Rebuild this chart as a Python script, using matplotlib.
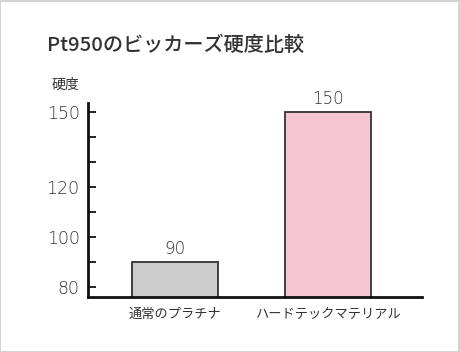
import matplotlib
matplotlib.use("Agg")
import matplotlib.pyplot as plt
from matplotlib.patches import Rectangle

plt.rcParams['font.family'] = ['Noto Sans CJK JP', 'DejaVu Sans']

# データ
categories = ['通常のプラチナ', 'ハードテックマテリアル']
hardness = [90, 150]
bar_colors = ['#cccccc', '#f5c6cf']
major_ticks = [80, 100, 120, 150]
minor_ticks = [90, 110, 130, 140]

num_font = dict(family='DejaVu Sans', weight=200)

fig = plt.figure(figsize=(4.6, 3.52), dpi=100)
ax = fig.add_axes([0.1913, 0.1571, 0.7261, 0.5494])

x = range(len(categories))
bars = ax.bar(x, hardness, width=0.563, bottom=0, color=bar_colors,
              edgecolor='#333333', linewidth=1.3)
ax.set_ylim(76, 153.4)
ax.set_xlim(-0.572, 1.616)

for b, v in zip(bars, hardness):
    ax.annotate(str(v), (b.get_x() + b.get_width() / 2, v), xytext=(0, 2.5),
                textcoords='offset points', ha='center', va='bottom',
                fontsize=12, color='#333333', **num_font)

ax.set_yticks(major_ticks)
ax.set_yticks(minor_ticks, minor=True)
ax.set_yticklabels([str(t) for t in major_ticks], fontsize=12.5,
                   color='#333333', **num_font)
ax.tick_params(axis='y', which='both', direction='in', length=6, width=1.3,
               color='#111111', pad=6)
ax.set_xticks(list(x))
ax.set_xticklabels(categories, fontsize=9.5, color='#333333')
ax.tick_params(axis='x', length=0, pad=8)

for s in ['top', 'right']:
    ax.spines[s].set_visible(False)
for s in ['left', 'bottom']:
    ax.spines[s].set_linewidth(2)
    ax.spines[s].set_color('#111111')

fig.text(47 / 460, 1 - 45 / 352, 'Pt950のビッカーズ硬度比較', fontsize=14.5,
         color='#333333', va='center', ha='left', fontweight='medium')
fig.text(52 / 460, 1 - 85 / 352, '硬度', fontsize=10, color='#333333',
         va='center', ha='left')

fig.patches.append(Rectangle((0.001, 0.001), 0.997, 0.997, transform=fig.transFigure,
                             fill=False, edgecolor='#cccccc', linewidth=1.2))

fig.savefig('out.png', dpi=100)
